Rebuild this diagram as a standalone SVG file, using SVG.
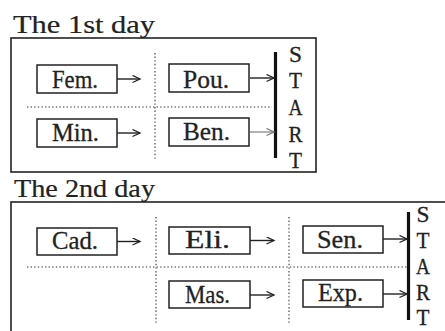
<svg xmlns="http://www.w3.org/2000/svg" width="445" height="331" viewBox="0 0 445 331">
<style>
.frame{fill:none;stroke:#222;stroke-width:1.6}
.node rect{fill:#fff;stroke:#222;stroke-width:1.5}
.lbl{font-family:"Liberation Serif",serif;font-size:26px;fill:#222;stroke:#222;stroke-width:0.3}
.title{font-family:"Liberation Serif",serif;font-size:25px;fill:#222;stroke:#222;stroke-width:0.2}
.start{font-family:"Liberation Serif",serif;font-size:24px;fill:#222;text-anchor:middle;stroke:#222;stroke-width:0.3}
.dot{stroke:#333;stroke-width:1.1;stroke-dasharray:1.4 2.2;fill:none}
.arr{stroke:#222;stroke-width:1.4;fill:none;marker-end:url(#ah)}
.bar{stroke:#111;stroke-width:3.2}
</style>
<defs>
<marker id="ah" markerWidth="10" markerHeight="10" refX="8" refY="4" orient="auto" markerUnits="userSpaceOnUse">
<path d="M0.5,0.5 L8,4 L0.5,7.5" fill="none" stroke="#222" stroke-width="1.3"/>
</marker>
<marker id="ahg" markerWidth="10" markerHeight="10" refX="8" refY="4" orient="auto" markerUnits="userSpaceOnUse">
<path d="M0.5,0.5 L8,4 L0.5,7.5" fill="none" stroke="#777" stroke-width="1.3"/>
</marker>
</defs>
<rect width="445" height="331" fill="#fff"/>

<g id="day1">
<text class="title" x="13" y="33" textLength="142" lengthAdjust="spacingAndGlyphs">The 1st day</text>
<rect class="frame" x="11" y="38" width="305" height="134"/>
<g id="start1">
<text class="start" x="295.5" y="62" textLength="13" lengthAdjust="spacingAndGlyphs">S</text>
<text class="start" x="295.5" y="88" textLength="13" lengthAdjust="spacingAndGlyphs">T</text>
<text class="start" x="295.5" y="115" textLength="14" lengthAdjust="spacingAndGlyphs">A</text>
<text class="start" x="295.5" y="142" textLength="14" lengthAdjust="spacingAndGlyphs">R</text>
<text class="start" x="295.5" y="168" textLength="13" lengthAdjust="spacingAndGlyphs">T</text>
</g>
</g>

<g id="day2">
<text class="title" x="14" y="197" textLength="141" lengthAdjust="spacingAndGlyphs">The 2nd day</text>
<rect class="frame" x="11" y="202" width="440" height="140"/>
<g id="start2">
<text class="start" x="423" y="222" textLength="13" lengthAdjust="spacingAndGlyphs">S</text>
<text class="start" x="423" y="248" textLength="13" lengthAdjust="spacingAndGlyphs">T</text>
<text class="start" x="423" y="274" textLength="14" lengthAdjust="spacingAndGlyphs">A</text>
<text class="start" x="423" y="300" textLength="14" lengthAdjust="spacingAndGlyphs">R</text>
<text class="start" x="423" y="325" textLength="13" lengthAdjust="spacingAndGlyphs">T</text>
</g>
</g>

<g id="connectors">
<line class="dot" x1="155" y1="53" x2="155" y2="159"/>
<line class="dot" x1="27" y1="107" x2="272" y2="107"/>
<line class="bar" x1="275.5" y1="52" x2="275.5" y2="158"/>
<line class="arr" x1="117" y1="79" x2="140" y2="79"/>
<line class="arr" x1="250" y1="78" x2="274" y2="78"/>
<line class="arr" x1="117" y1="133" x2="140" y2="133"/>
<line x1="250" y1="132" x2="274" y2="132" stroke="#888" stroke-width="1.3" marker-end="url(#ahg)"/>

<line class="dot" x1="156" y1="217" x2="156" y2="323"/>
<line class="dot" x1="289" y1="217" x2="289" y2="323"/>
<line class="dot" x1="27" y1="267" x2="408" y2="267"/>
<line class="bar" x1="408.5" y1="212" x2="408.5" y2="320"/>
<line class="arr" x1="117" y1="241.5" x2="140" y2="241.5"/>
<line class="arr" x1="250" y1="240.5" x2="274" y2="240.5"/>
<line class="arr" x1="383" y1="239" x2="407" y2="239"/>
<line class="arr" x1="250" y1="295" x2="274" y2="295"/>
<line class="arr" x1="383" y1="294" x2="407" y2="294"/>
</g>

<g id="fem" class="node"><rect x="37" y="65" width="80" height="28"/><text class="lbl" x="52" y="88" textLength="46" lengthAdjust="spacingAndGlyphs">Fem.</text></g>
<g id="pou" class="node"><rect x="169" y="64" width="80" height="28"/><text class="lbl" x="183" y="88" textLength="46" lengthAdjust="spacingAndGlyphs">Pou.</text></g>
<g id="min" class="node"><rect x="37" y="119" width="80" height="28"/><text class="lbl" x="52" y="141" textLength="47" lengthAdjust="spacingAndGlyphs">Min.</text></g>
<g id="ben" class="node"><rect x="169" y="118" width="80" height="28"/><text class="lbl" x="183" y="140" textLength="47" lengthAdjust="spacingAndGlyphs">Ben.</text></g>

<g id="cad" class="node"><rect x="37" y="228" width="80" height="27"/><text class="lbl" x="52" y="249" textLength="46" lengthAdjust="spacingAndGlyphs">Cad.</text></g>
<g id="eli" class="node"><rect x="169" y="227" width="81" height="27"/><text class="lbl" x="185" y="248" textLength="45" lengthAdjust="spacingAndGlyphs">Eli.</text></g>
<g id="sen" class="node"><rect x="303" y="226" width="80" height="27"/><text class="lbl" x="317" y="247.5" textLength="46" lengthAdjust="spacingAndGlyphs">Sen.</text></g>
<g id="mas" class="node"><rect x="169" y="281" width="81" height="27"/><text class="lbl" x="185" y="302.5" textLength="45" lengthAdjust="spacingAndGlyphs">Mas.</text></g>
<g id="exp" class="node"><rect x="303" y="280" width="80" height="27"/><text class="lbl" x="318" y="301" textLength="45" lengthAdjust="spacingAndGlyphs">Exp.</text></g>
</svg>
